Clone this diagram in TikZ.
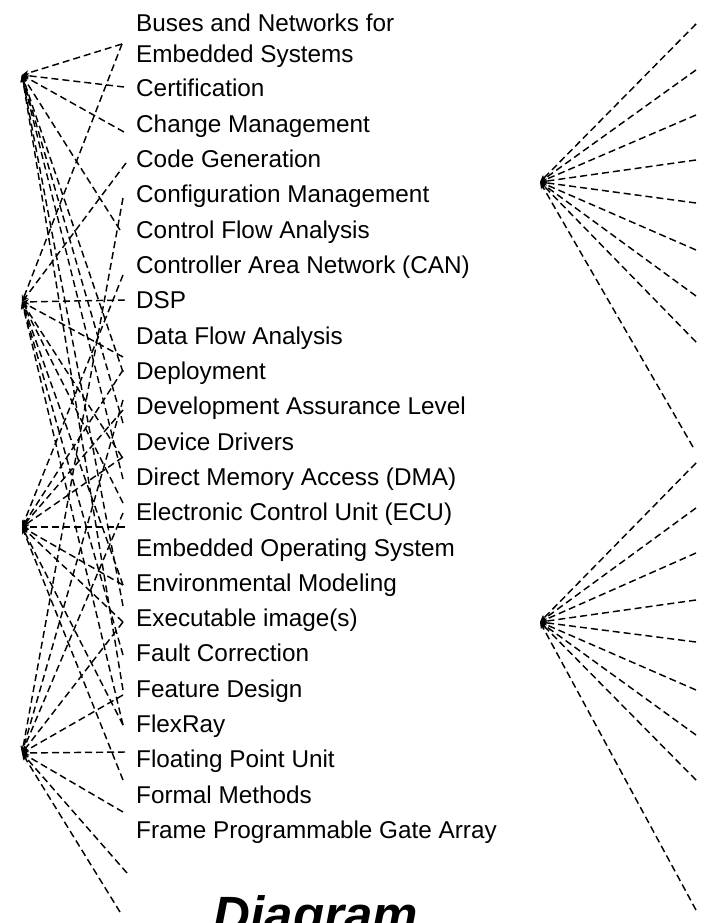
\documentclass[tikz,border=0pt]{standalone}
\usepackage{fontspec}
\setmainfont{Liberation Sans}
\usetikzlibrary{arrows.meta}
\begin{document}
\begin{tikzpicture}[x=1pt,y=-1pt,
  lbl/.style={anchor=base west, inner sep=0pt, font=\fontsize{24.3}{28}\selectfont},
  edge/.style={line width=1.45pt, dash pattern=on 7pt off 4pt, -{Stealth[length=7pt,width=5.5pt]}},
  ttl/.style={anchor=base, inner sep=0pt, font=\fontsize{51}{56}\selectfont\bfseries\itshape}
]
\useasboundingbox (0,0) rectangle (709,923);
% labels
\node[lbl] (t0) at (136,31.5) {Buses and Networks for};
\node[lbl] (t1) at (136,62.5) {Embedded Systems};
\foreach \t [count=\i from 0] in {Certification,Change Management,Code Generation,Configuration Management,Control Flow Analysis,Controller Area Network (CAN),DSP,Data Flow Analysis,Deployment,Development Assurance Level,Device Drivers,Direct Memory Access (DMA),Electronic Control Unit (ECU),Embedded Operating System,Environmental Modeling,Executable image(s),Fault Correction,Feature Design,FlexRay,Floating Point Unit,Formal Methods,Frame Programmable Gate Array}
  \node[lbl] (l\i) at (136,97+35.31*\i) {\t};
\node[ttl] (title) at (316,932) {Diagram};
% hubs
\coordinate (h1) at (22,75);
\coordinate (h2) at (22,302);
\coordinate (h3) at (22,527);
\coordinate (h4) at (22,753);
\coordinate (r1) at (540,182);
\coordinate (r2) at (540,622);
% left edges
\foreach \y/\x in {44/122,87/124,132/124,230/120,372/123,423/123,479/123,606/123,690/123}
  {\coordinate (a) at (\x,\y); \draw[edge] (a) -- (h1);}
\foreach \y/\x in {44/122,163/126,300/125,357/123,457/122,503/123,585/123,655/123,725/123}
  {\coordinate (a) at (\x,\y); \draw[edge] (a) -- (h2);}
\foreach \y/\x in {275/123,370/123,410/123,457/123,527/125,585/123,622/123,725/123,780/123}
  {\coordinate (a) at (\x,\y); \draw[edge] (a) -- (h3);}
\foreach \y/\x in {198/123,400/123,513/123,622/123,695/123,752/125,812/123,873/127,912/120}
  {\coordinate (a) at (\x,\y); \draw[edge] (a) -- (h4);}
% right edges
\foreach \y/\x in {24/696,70/696,115/696,160/696,203/696,250/696,296/696,342/696,447/693}
  {\coordinate (a) at (\x,\y); \draw[edge] (a) -- (r1);}
\foreach \y/\x in {463/696,508/696,553/696,600/696,642/696,690/696,735/696,780/696,910/696}
  {\coordinate (a) at (\x,\y); \draw[edge] (a) -- (r2);}
\end{tikzpicture}
\end{document}
